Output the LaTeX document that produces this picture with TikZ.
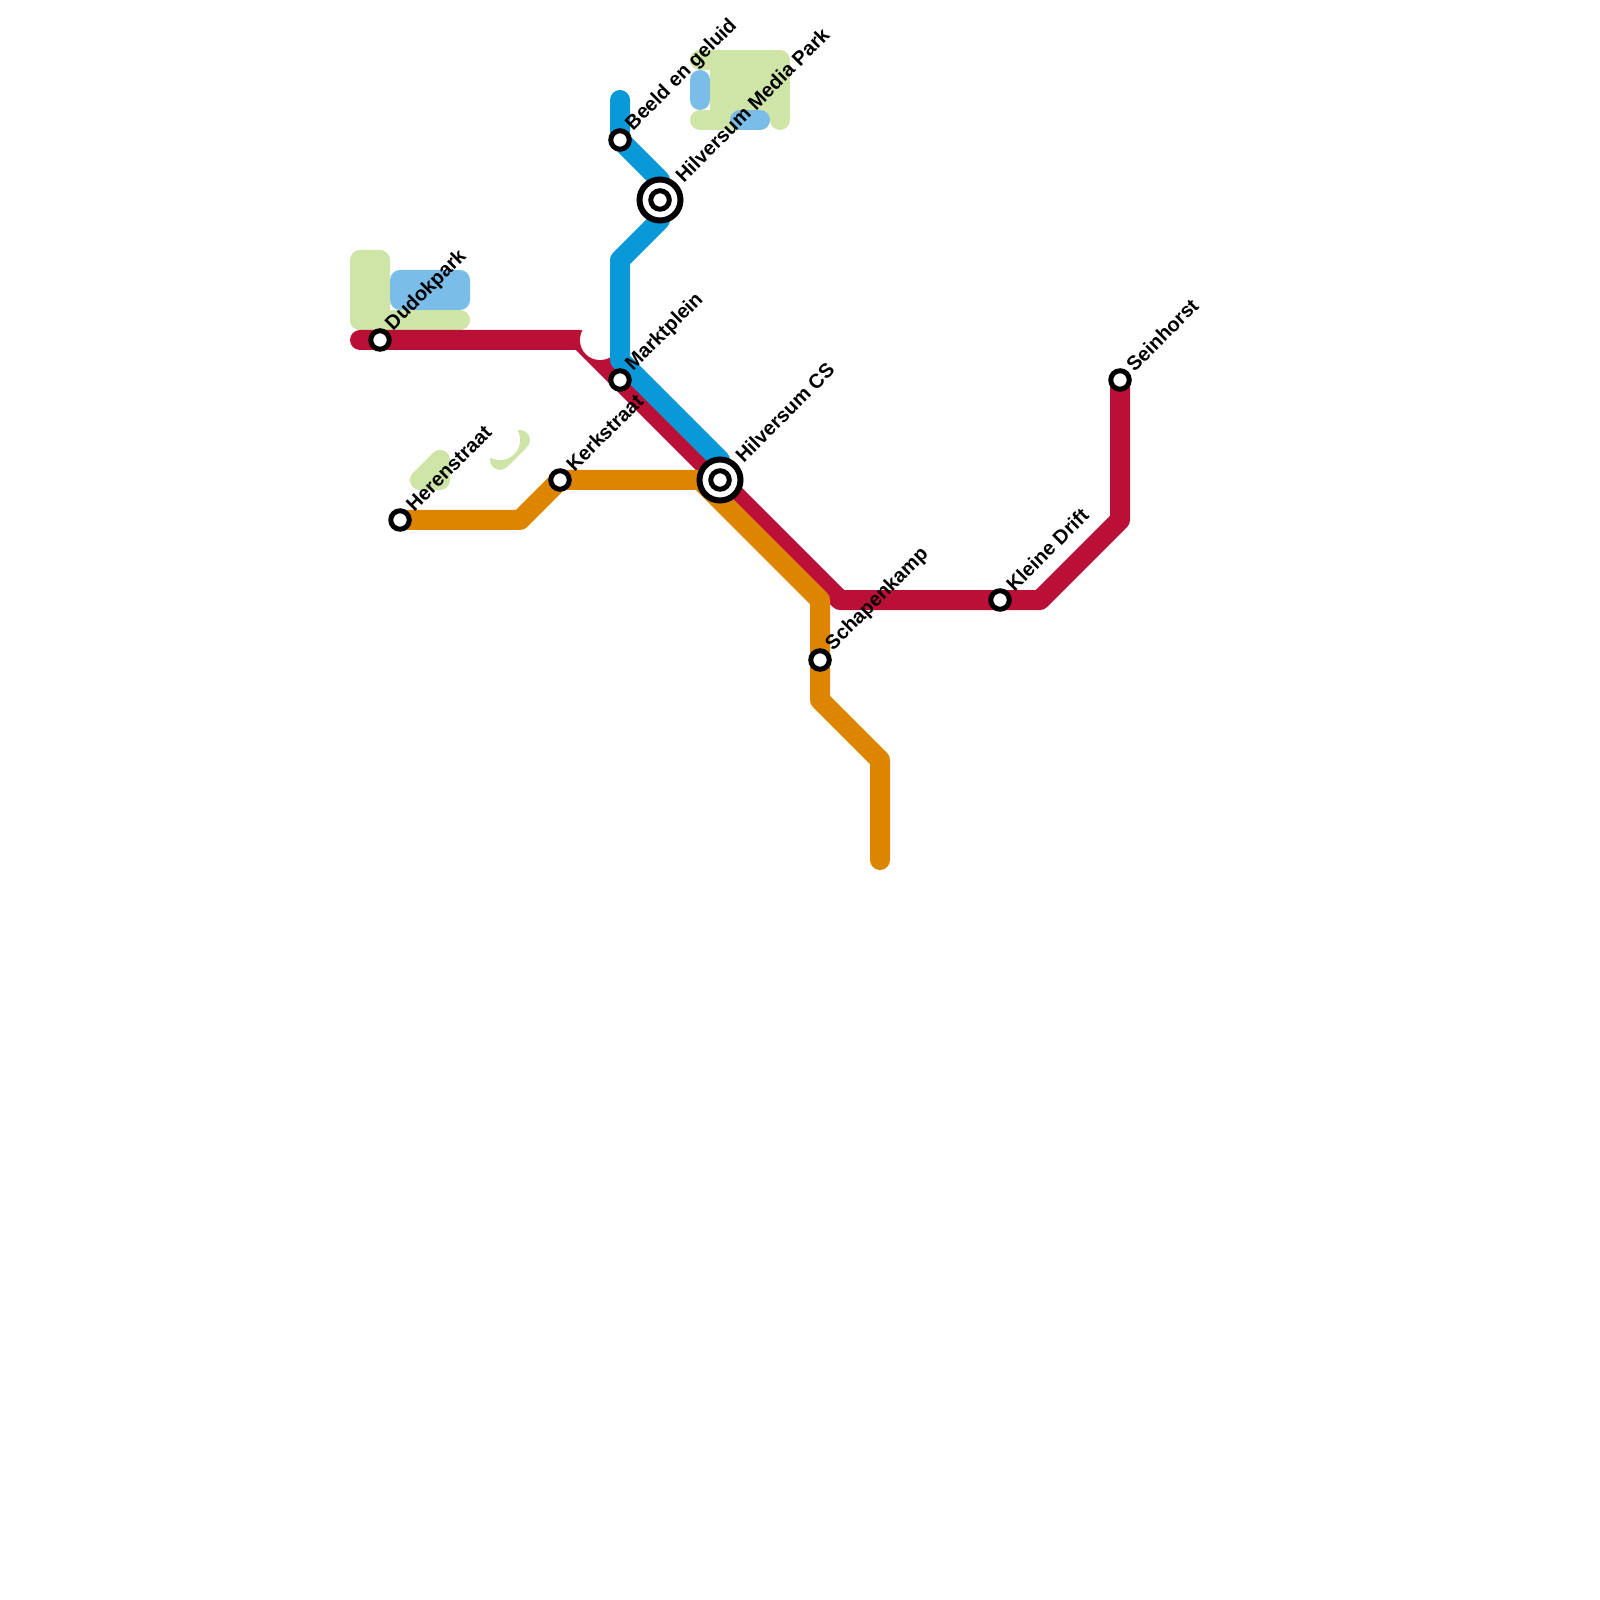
\documentclass[tikz,border=0pt]{standalone}
\usepackage{fontspec}
\setmainfont{Liberation Sans}
\definecolor{lijnrood}{HTML}{BA1037}
\definecolor{lijnblauw}{HTML}{0998D8}
\definecolor{lijnoranje}{HTML}{DE8500}
\definecolor{parkgroen}{HTML}{CFE4A7}
\definecolor{waterblauw}{HTML}{7ABDE8}
\tikzset{
  lijn/.style={line width=2mm,line cap=round,line join=round},
  park/.style={lijn,draw=parkgroen,fill=parkgroen},
  water/.style={lijn,draw=waterblauw},
  halte/.style={circle,draw=black,fill=white,line width=.5mm,minimum size=1.85mm,inner sep=0pt},
  overstap/.style={circle,draw=black,fill=white,line width=.6mm,minimum size=4.1mm,inner sep=0pt},
  naam/.style={xshift=.9mm,yshift=1.2mm,rotate=45,anchor=west,inner sep=0pt,font=\fontsize{5.69pt}{7pt}\selectfont\bfseries},
}
\begin{document}
\begin{tikzpicture}[y=-1cm]
\useasboundingbox (0,0) rectangle (16,16);
% stations
\coordinate (dudokpark) at (3.8,3.4);
\coordinate (beeld) at (6.2,1.4);
\coordinate (mediapark) at (6.6,2);
\coordinate (marktplein) at (6.2,3.8);
\coordinate (kerkstraat) at (5.6,4.8);
\coordinate (herenstraat) at (4,5.2);
\coordinate (cs) at (7.2,4.8);
\coordinate (schapenkamp) at (8.2,6.6);
\coordinate (kleinedrift) at (10,6);
\coordinate (seinhorst) at (11.2,3.8);
% bends
\coordinate (r1) at (3.6,3.4);
\coordinate (r2) at (5.8,3.4);
\coordinate (r3) at (8.4,6);
\coordinate (r4) at (10.4,6);
\coordinate (r5) at (11.2,5.2);
\coordinate (o1) at (5.2,5.2);
\coordinate (o2) at (7,4.8);
\coordinate (o3) at (8.2,6);
\coordinate (o4) at (8.2,7);
\coordinate (o5) at (8.8,7.6);
\coordinate (o6) at (8.8,8.6);
\coordinate (b1) at (6.2,1);
\coordinate (b2) at (6.6,1.8);
\coordinate (b3) at (6.6,2.2);
\coordinate (b4) at (6.2,2.6);
\coordinate (b5) at (6.2,3.6);
\coordinate (b6) at (7.2,4.6);
% parks and water
\fill[parkgroen,rounded corners=1mm] (3.5,2.5) rectangle (3.9,3.3);
\draw[park] (3.6,3.2) -- (4.6,3.2);
\fill[waterblauw,rounded corners=1mm] (3.9,2.7) rectangle (4.7,3.1);
\draw[park] (4.2,4.8) -- (4.4,4.6) -- (4.4,4.8) -- cycle;
\draw[park] (5,4.6) -- (5.2,4.4);
\fill[white] (5,4.4) circle (.2);
\draw[park] (7,.6) -- (7.8,.6) -- (7.8,1.2);
\draw[park] (7,1.2) -- (7.6,1.2);
\fill[parkgroen] (7.1,.6) rectangle (7.8,1.2);
\draw[water] (7,.8) -- (7,1);
\draw[water] (7.4,1.2) -- (7.6,1.2);
% lines
\draw[lijn,lijnrood] (r1) -- (r2) -- (cs) -- (r3) -- (r4) -- (r5) -- (seinhorst);
\fill[white] (6,3.4) circle (.2);
\draw[lijn,lijnoranje] (herenstraat) -- (o1) -- (kerkstraat) -- (o2) -- (o3) -- (o4) -- (o5) -- (o6);
\draw[lijn,lijnblauw] (b1) -- (beeld) -- (b2);
\draw[lijn,lijnblauw] (b3) -- (b4) -- (b5) -- (b6);
% halts
\node[halte] (n1) at (dudokpark) {};
\node[halte] (n2) at (beeld) {};
\node[overstap] (n3) at (mediapark) {};
\node[halte] (n4) at (mediapark) {};
\node[halte] (n5) at (marktplein) {};
\node[halte] (n6) at (kerkstraat) {};
\node[halte] (n7) at (herenstraat) {};
\node[overstap] (n8) at (cs) {};
\node[halte] (n9) at (cs) {};
\node[halte] (n10) at (schapenkamp) {};
\node[halte] (n11) at (kleinedrift) {};
\node[halte] (n12) at (seinhorst) {};
% names
\node[naam] (t1) at (dudokpark) {Dudokpark};
\node[naam] (t2) at (beeld) {Beeld en geluid};
\node[naam,xshift=1.3mm] (t3) at (mediapark) {Hilversum Media Park};
\node[naam] (t4) at (marktplein) {Marktplein};
\node[naam] (t5) at (kerkstraat) {Kerkstraat};
\node[naam] (t6) at (herenstraat) {Herenstraat};
\node[naam,xshift=1.3mm] (t7) at (cs) {Hilversum CS};
\node[naam] (t8) at (schapenkamp) {Schapenkamp};
\node[naam] (t9) at (kleinedrift) {Kleine Drift};
\node[naam] (t10) at (seinhorst) {Seinhorst};
\end{tikzpicture}
\end{document}
